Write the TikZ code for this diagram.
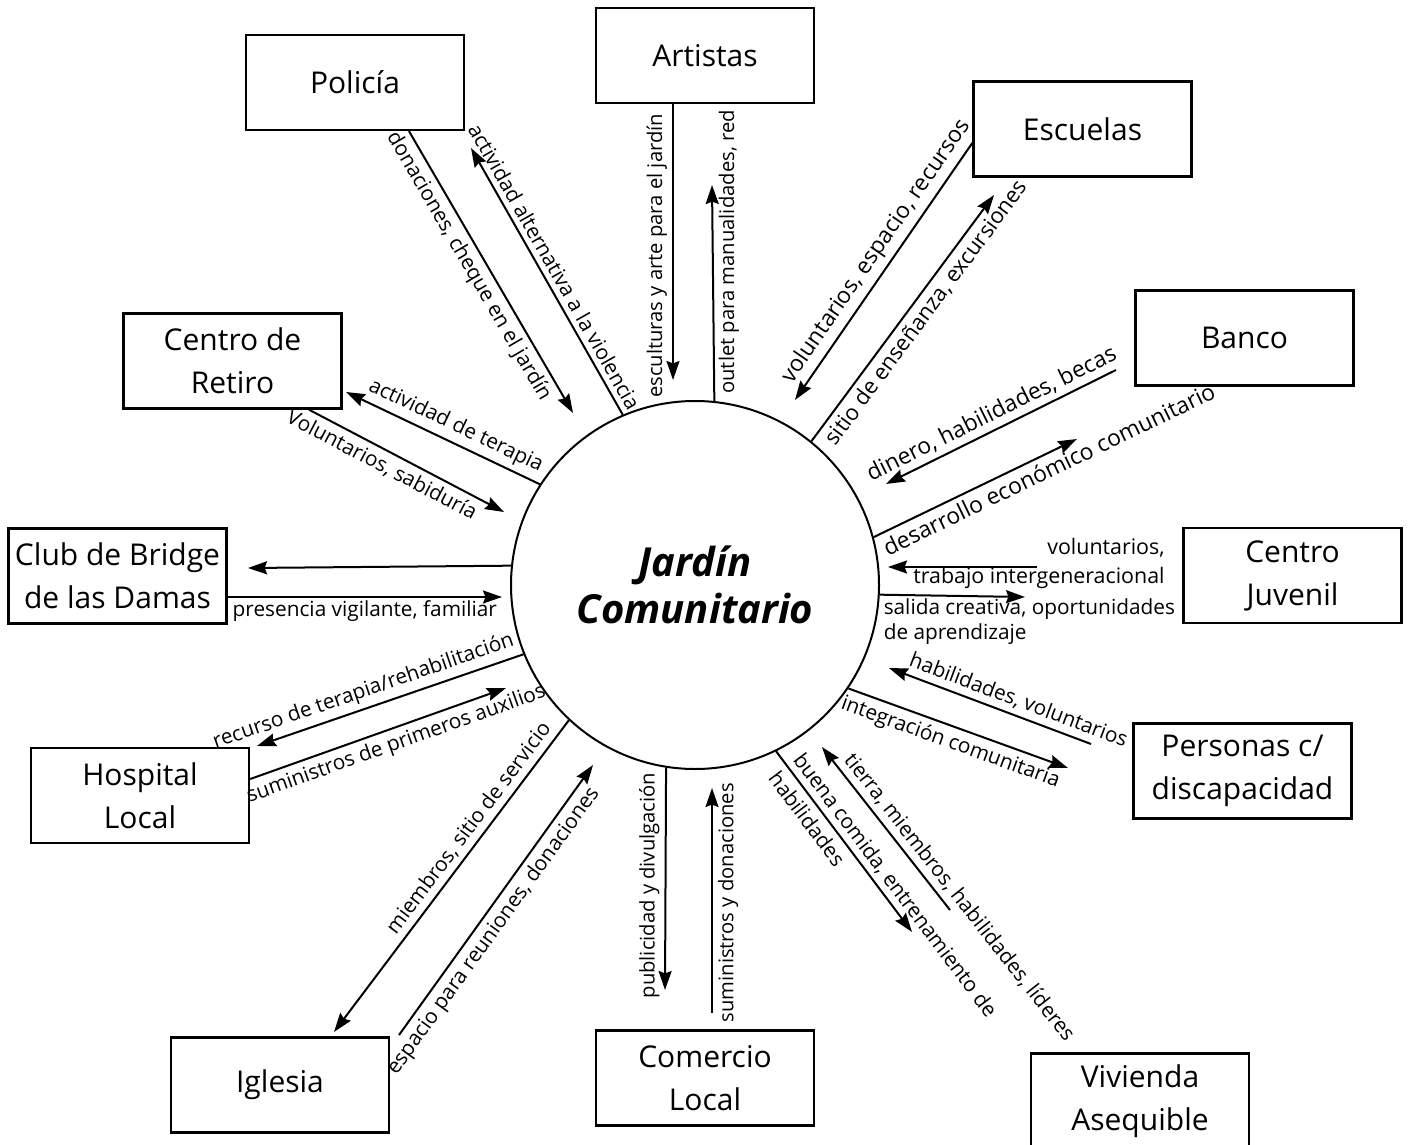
\documentclass[tikz,border=0pt]{standalone}
\usepackage{fontspec}
\setmainfont{Open Sans}
\usetikzlibrary{arrows.meta,calc}

\tikzset{
  actor/.style={draw, line width=1.2pt, minimum width=109pt, minimum height=47.5pt,
    inner sep=0pt, align=center, font=\fontsize{15}{21.5}\selectfont},
  lbl/.style={font=\fontsize{10.4}{12.5}\selectfont, inner sep=2.5pt},
  biglbl/.style={lbl, font=\fontsize{11.4}{13.5}\selectfont},
  vlbl/.style={lbl, font=\fontsize{10.1}{12}\selectfont, rotate=90},
  flow/.style={line width=1pt, -{Stealth[length=9.5pt,width=6.5pt,inset=1.2pt]}},
  back/.style={line width=1pt, {Stealth[length=9.5pt,width=6.5pt,inset=1.2pt]}-},
}

\begin{document}
\begin{tikzpicture}[x=0.5pt, y=-0.5pt]
\useasboundingbox (0,0) rectangle (1411,1144);

% the garden in the middle
\node[circle, draw, line width=1pt, minimum size=184pt, inner sep=0pt, align=center,
  font=\fontsize{20}{23.5}\selectfont\bfseries\itshape] (garden) at (695,585) {Jardín\\Comunitario};

% partners
\node[actor] (art)  at (705,55.5)   {Artistas};
\node[actor] (pol)  at (355,82.5)   {Policía};
\node[actor] (esc)  at (1082.5,129) {Escuelas};
\node[actor] (ret)  at (232.5,361)  {Centro de\\Retiro};
\node[actor] (ban)  at (1244.5,338) {Banco};
\node[actor] (club) at (117.5,576)  {Club de Bridge\\de las Damas};
\node[actor] (juv)  at (1292.5,575.5) {Centro\\Juvenil};
\node[actor] (hosp) at (140,795.5)  {Hospital\\Local};
\node[actor] (pers) at (1242.5,771) {Personas c/\\discapacidad};
\node[actor] (igl)  at (280,1085)   {Iglesia};
\node[actor] (com)  at (705,1078)   {Comercio\\Local};
\node[actor] (viv)  at (1140,1101)  {Vivienda\\Asequible};

% free ends
\coordinate (tDon) at (573,413);
\coordinate (tAlt) at (471,148);
\coordinate (tEsc) at (673,380);
\coordinate (tOut) at (712,185);
\coordinate (tVol) at (795,400);
\coordinate (tSit) at (994,195);
\coordinate (sDin) at (1116,370);
\coordinate (tDin) at (886,484);
\coordinate (tDes) at (1077,439);
\coordinate (sJuv) at (1037,567);
\coordinate (tJuv) at (888,567);
\coordinate (tSal) at (1025,597);
\coordinate (tClub) at (248,568);
\coordinate (tPre) at (502,597);
\coordinate (tTer) at (346,392);
\coordinate (tSab) at (504,512);
\coordinate (tRec) at (257,746);
\coordinate (tSum) at (506,688);
\coordinate (tMie) at (334,1032);
\coordinate (sEsp) at (399,1035);
\coordinate (tEsp) at (593,765);
\coordinate (tPub) at (665,990);
\coordinate (sSyd) at (712,1013);
\coordinate (tSyd) at (712,788);
\coordinate (tBue) at (912,932);
\coordinate (sTie) at (950,910);
\coordinate (tTie) at (822,747);
\coordinate (sHab) at (1091,744);
\coordinate (tHab) at (889,668);
\coordinate (tInt) at (1068,768);

% exchanges
\draw[flow] ([xshift=27pt]pol.south) -- (tDon) node[lbl, sloped, below, pos=0.45] {donaciones, cheque en el jardín};
\draw[back] (tAlt) -- (garden.113.5) node[lbl, sloped, above, pos=0.47] {actividad alternativa a la violencia};

\draw[flow] ([xshift=-16pt]art.south) -- (tEsc) node[vlbl, anchor=south, pos=0.55] {esculturas y arte para el jardín};
\draw[flow] (garden.84.7) -- (tOut) node[vlbl, anchor=north, pos=0.69] {outlet para manualidades, red};

\draw[back] (tVol) -- ([yshift=-7pt]esc.west) node[biglbl, sloped, above, pos=0.54] {voluntarios, espacio, recursos};
\draw[flow] (garden.51.1) -- (tSit) node[biglbl, sloped, below, pos=0.56, font=\fontsize{11}{13}\selectfont] {sitio de enseñanza, excursiones};

\draw[back] (tDin) -- (sDin) node[biglbl, sloped, above, pos=0.49] {dinero, habilidades, becas};
\draw[flow] (garden.15.6) -- (tDes) node[biglbl, sloped, below, pos=0.83] {desarrollo económico comunitario};

\draw[flow] (sJuv) -- (tJuv);
\node[lbl, align=right, anchor=east, font=\fontsize{10.7}{14.5}\selectfont] (lJuv) at ([shift={(133,-4)}]sJuv) {voluntarios,\\trabajo intergeneracional};
\draw[flow] (garden.-3.7) -- (tSal) node[lbl, align=left, anchor=north west, pos=0, inner sep=1.5pt] {salida creativa, oportunidades\\de aprendizaje};

\draw[flow] (garden.174.7) -- (tClub);
\draw[flow] ([yshift=-10.5pt]club.east) -- (tPre) node[lbl, below, midway, inner sep=1.5pt] {presencia vigilante, familiar};

\draw[back] (tTer) -- (garden.147.9) node[lbl, sloped, above, pos=0.53] {actividad de terapia};
\draw[flow] ([xshift=38.25pt]ret.south) -- (tSab) node[lbl, sloped, below, pos=0.41] {Voluntarios, sabiduría};

\draw[back] (tRec) -- (garden.-158.3) node[lbl, sloped, above, pos=0.42] {recurso de terapia/rehabilitación};
\draw[flow] ([yshift=8.25pt]hosp.east) -- (tSum) node[lbl, sloped, below, pos=0.55] {suministros de primeros auxilios};

\draw[back] (tMie) -- (garden.-133) node[lbl, sloped, above, pos=0.625] {miembros, sitio de servicio};
\draw[flow] (sEsp) -- (tEsp) node[lbl, sloped, below, pos=0.42] {espacio para reuniones, donaciones};

\draw[back] (tPub) -- (garden.-99.4) node[vlbl, anchor=south, pos=0.47] {publicidad y divulgación};
\draw[flow] (sSyd) -- (tSyd) node[vlbl, anchor=north, pos=0.49] {suministros y donaciones};

\draw[flow] (garden.-64.4) -- (tBue) node[lbl, sloped, pos=0.79, align=left] {buena comida, entrenamiento de\\[3pt]habilidades};
\draw[back] (tTie) -- (sTie) node[lbl, sloped, above, pos=0.98] {tierra, miembros, habilidades, líderes};

\draw[back] (tHab) -- (sHab) node[lbl, sloped, above, pos=0.615] {habilidades, voluntarios};
\draw[flow] (garden.-34.4) -- (tInt) node[lbl, sloped, below, pos=0.49] {integración comunitaria};
\end{tikzpicture}
\end{document}
